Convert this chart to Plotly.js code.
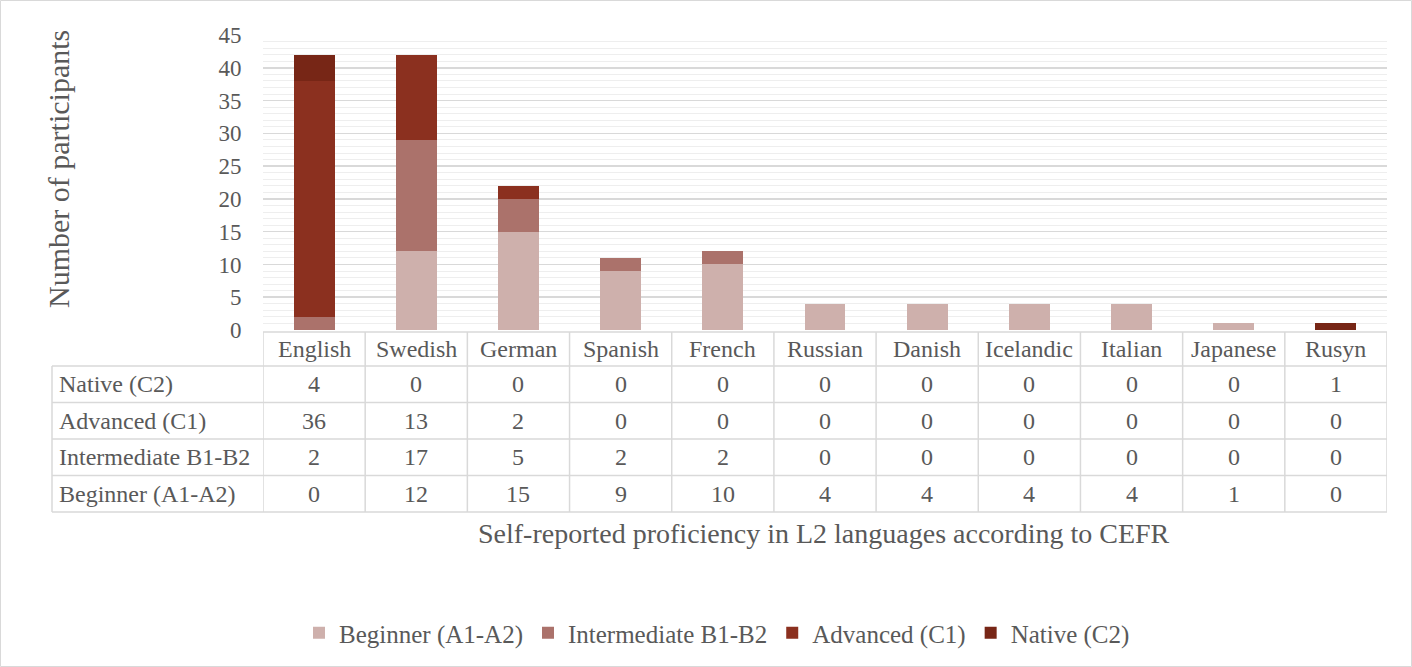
<!DOCTYPE html>
<html>
<head>
<meta charset="utf-8">
<script src="https://cdn.plot.ly/plotly-3.0.1.min.js"></script>
<style>html,body{margin:0;padding:0;background:#fff;}#chart{width:1412px;height:667px;}</style>
</head>
<body>
<div id="chart"></div>
<script>
const categories = ['English','Swedish','German','Spanish','French','Russian','Danish','Icelandic','Italian','Japanese','Rusyn'];
const beginner = [0,12,15,9,10,4,4,4,4,1,0];
const intermediate = [2,17,5,2,2,0,0,0,0,0,0];
const advanced = [36,13,2,0,0,0,0,0,0,0,0];
const native = [4,0,0,0,0,0,0,0,0,0,1];
const seriesNames = ['Beginner (A1-A2)','Intermediate B1-B2','Advanced (C1)','Native (C2)'];
const seriesColors = ['#CEB0AC','#AB726B','#8B301F','#772616'];
const yTicks = [0,5,10,15,20,25,30,35,40,45];

const W = 1412, H = 667;
const px = x => x / W;
const py = y => 1 - y / H;
const FONT = 'Liberation Serif, Times New Roman, serif';
const TXT = '#595959';
const LINE = '#d9d9d9';
const TBL_SIZE = 24;

const seriesData = [beginner, intermediate, advanced, native];
const traces = seriesData.map((vals, i) => ({
  type: 'bar',
  name: seriesNames[i],
  x: categories,
  y: vals,
  marker: {color: seriesColors[i]},
  hoverinfo: 'skip'
}));

// table geometry (pixels)
const tblLeft = 52, colStart = 263, tblRight = 1387;
const headerTop = 332;
const rowLines = [366, 402.5, 439, 475.5, 512];
const headerMid = (headerTop + rowLines[0]) / 2;

const shapes = [];
const annotations = [];
// outer border
shapes.push({type:'rect', xref:'paper', yref:'paper', x0:px(0.5), x1:px(W-0.5), y0:py(H-0.5), y1:py(0.5), line:{color:LINE, width:1}});
// header top line
shapes.push({type:'line', xref:'paper', yref:'paper', x0:px(colStart), x1:px(tblRight), y0:py(headerTop), y1:py(headerTop), line:{color:LINE, width:1.5}});
rowLines.forEach(yv => shapes.push({type:'line', xref:'paper', yref:'paper', x0:px(tblLeft), x1:px(tblRight), y0:py(yv), y1:py(yv), line:{color:LINE, width:1.5}}));
// left border of label column
shapes.push({type:'line', xref:'paper', yref:'paper', x0:px(tblLeft), x1:px(tblLeft), y0:py(rowLines[0]), y1:py(rowLines[4]), line:{color:LINE, width:1.5}});
// category column boundaries in data coords
for (let k = 0; k <= categories.length; k++) {
  shapes.push({type:'line', xref:'x', yref:'paper', x0:k-0.5, x1:k-0.5, y0:py(headerTop), y1:py(rowLines[4]), line:{color:LINE, width:1.5}});
}
// header texts
categories.forEach(c => annotations.push({xref:'x', yref:'paper', x:c, y:py(headerMid), text:c, showarrow:false, font:{family:FONT, size:TBL_SIZE, color:TXT}, xanchor:'center', yanchor:'middle'}));
// rows
const tableRows = [[seriesNames[3], native], [seriesNames[2], advanced], [seriesNames[1], intermediate], [seriesNames[0], beginner]];
tableRows.forEach((row, r) => {
  const top = rowLines[r], bot = rowLines[r+1];
  const mid = (top + bot) / 2;
  annotations.push({xref:'paper', yref:'paper', x:px(57), y:py(mid), text:row[0], showarrow:false, font:{family:FONT, size:TBL_SIZE, color:TXT}, xanchor:'left', yanchor:'middle'});
  row[1].forEach((v, i) => annotations.push({xref:'x', yref:'paper', x:categories[i], y:py(mid), text:String(v), showarrow:false, font:{family:FONT, size:TBL_SIZE, color:TXT}, xanchor:'center', yanchor:'middle'}));
});
// axis titles
annotations.push({xref:'paper', yref:'paper', x:px(58), y:py(169), text:'Number of participants', textangle:-90, showarrow:false, font:{family:FONT, size:30, color:TXT}, xanchor:'center', yanchor:'middle'});
annotations.push({xref:'paper', yref:'paper', x:px(824), y:py(533), text:'Self-reported proficiency in L2 languages according to CEFR', showarrow:false, font:{family:FONT, size:28, color:TXT}, xanchor:'center', yanchor:'middle'});

const layout = {
  width: W, height: H,
  margin: {l:0, r:0, t:0, b:0},
  paper_bgcolor: '#fff', plot_bgcolor: '#fff',
  barmode: 'stack',
  bargap: 0.6,
  showlegend: true,
  legend: {orientation:'h', x:px(717), xanchor:'center', y:py(633), yanchor:'middle', font:{family:FONT, size:25, color:TXT}, traceorder:'normal', itemwidth:30},
  xaxis: {domain:[px(colStart), px(tblRight)], range:[-0.5, categories.length-0.5], showticklabels:false, showgrid:false, zeroline:false, showline:false, ticks:'', fixedrange:true},
  yaxis: {domain:[py(330), py(35)], range:[0,45], tickvals:yTicks, ticktext:yTicks.map(String), showgrid:true, gridcolor:'#d9d9d9', gridwidth:1.5, zeroline:false, showline:false, ticks:'outside', ticklen:16, tickcolor:'rgba(0,0,0,0)', tickfont:{family:FONT, size:23, color:TXT},
    minor:{dtick:1, showgrid:true, gridcolor:'#eeeeee', gridwidth:1}},
  shapes: shapes,
  annotations: annotations
};

Plotly.newPlot('chart', traces, layout, {displayModeBar:false, staticPlot:true});
</script>
</body>
</html>
